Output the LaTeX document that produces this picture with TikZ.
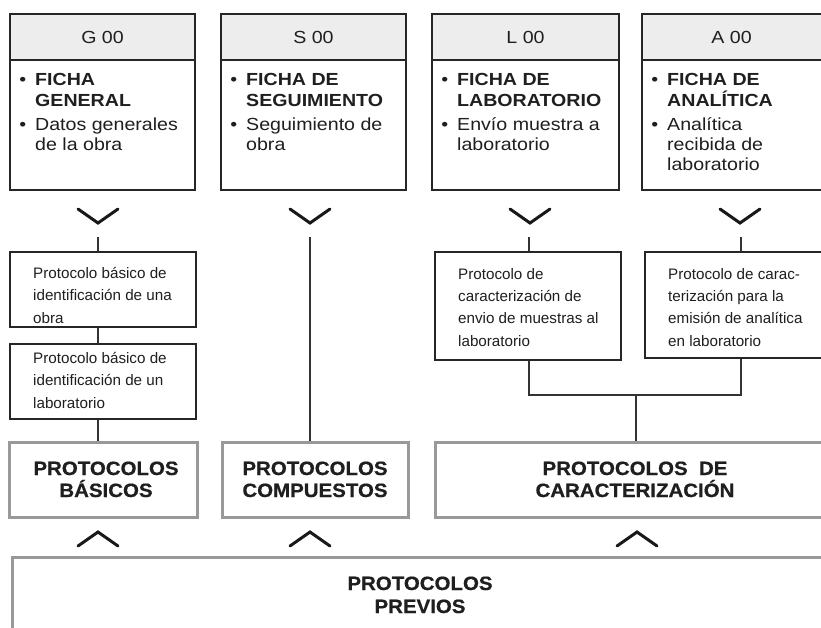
\documentclass[tikz,border=0pt]{standalone}
\usepackage{fontspec}
\setmainfont[FakeStretch=1.12]{Liberation Sans}
\newfontfamily\midfam{Liberation Sans}
\newfontfamily\botfam[FakeStretch=1.06,FakeBold=0.6]{Liberation Sans Bold}
\begin{document}
\begin{tikzpicture}[x=1pt,y=-1pt,
  txt/.style={inner sep=0pt, text=black!88},
  topfont/.style={font=\fontsize{17.5}{21}\selectfont},
  midfont/.style={font=\midfam\fontsize{15.2}{18}\selectfont},
  botfont/.style={font=\botfam\fontsize{19.3}{22}\selectfont},
  headbox/.style={draw=black!85, line width=1.5pt, fill=black!7, inner sep=0pt},
  bodybox/.style={draw=black!85, line width=1.5pt, fill=white, inner sep=0pt},
  midbox/.style={draw=black!85, line width=1.4pt, fill=white, inner sep=0pt},
  grybox/.style={draw=black!40, line width=3pt, fill=white, inner sep=0pt},
  link/.style={draw=black!80, line width=1.3pt},
  chev/.style={draw=black!90, line width=3pt, line cap=round, line join=miter}
]
\useasboundingbox (0,0) rectangle (821,627);
\fill[white] (0,0) rectangle (821,627);

% bullet helper
\newcommand\bul{\makebox[0pt][r]{\textbullet\hspace{9pt}}}

% ---------- top boxes ----------
\foreach \n/\xa/\xb/\lab in {G/10/195/G 00, S/221/406/S 00, L/432/619/L 00, A/642/835/A 00}{
  \path[headbox] (\xa,14) rectangle (\xb,60);
  \path[bodybox] (\xa,60) rectangle (\xb,190);
  \node[txt, topfont] (h\n) at ({(\xa+min(\xb,821))/2},37) {\lab};
}
% body texts
\begin{scope}[every node/.style={txt, topfont, anchor=base west}]
  \node (g1) at (35,85)  {\bul\textbf{FICHA}};
  \node (g2) at (35,106) {\textbf{GENERAL}};
  \node (g3) at (35,130) {\bul Datos generales};
  \node (g4) at (35,150) {de la obra};
  \node (s1) at (246,85)  {\bul\textbf{FICHA DE}};
  \node (s2) at (246,106) {\textbf{SEGUIMIENTO}};
  \node (s3) at (246,130) {\bul Seguimiento de};
  \node (s4) at (246,150) {obra};
  \node (l1) at (457,85)  {\bul\textbf{FICHA DE}};
  \node (l2) at (457,106) {\textbf{LABORATORIO}};
  \node (l3) at (457,130) {\bul Envío muestra a};
  \node (l4) at (457,150) {laboratorio};
  \node (a1) at (667,85)  {\bul\textbf{FICHA DE}};
  \node (a2) at (667,106) {\textbf{ANALÍTICA}};
  \node (a3) at (667,130) {\bul Analítica};
  \node (a4) at (667,150) {recibida de};
  \node (a5) at (667,170) {laboratorio};
\end{scope}

% ---------- down chevrons ----------
\foreach \cx in {98,310,530,740}{
  \draw[chev] (\cx-20,209) -- (\cx,223) -- (\cx+20,209);
}

% ---------- middle boxes ----------
\node[midbox, minimum width=186pt, minimum height=75pt] (b1) at (103,289.5) {};
\node[midbox, minimum width=186pt, minimum height=75pt] (b2) at (103,381.5) {};
\node[midbox, minimum width=186pt, minimum height=108pt] (lc) at (528,306) {};
\node[midbox, minimum width=190pt, minimum height=106pt] (ac) at (740,305) {};

\begin{scope}[every node/.style={txt, midfont, anchor=base west}]
  \node (b1a) at (33,278) {Protocolo básico de};
  \node (b1b) at (33,300) {identificación de una};
  \node (b1c) at (33,323) {obra};
  \node (b2a) at (33,363) {Protocolo básico de};
  \node (b2b) at (33,385) {identificación de un};
  \node (b2c) at (33,408) {laboratorio};
  \node (lca) at (458,279) {Protocolo de};
  \node (lcb) at (458,301) {caracterización de};
  \node (lcc) at (458,323) {envio de muestras al};
  \node (lcd) at (458,346) {laboratorio};
  \node (aca) at (668,279) {Protocolo de carac-};
  \node (acb) at (668,301) {terización para la};
  \node (acc) at (668,323) {emisión de analítica};
  \node (acd) at (668,346) {en laboratorio};
\end{scope}

% ---------- bottom boxes ----------
\node[grybox, minimum width=188pt, minimum height=75pt] (pb) at (103,479.5) {};
\node[grybox, minimum width=186pt, minimum height=75pt] (pc) at (315,479.5) {};
\node[grybox, minimum width=400pt, minimum height=75pt] (pk) at (635,479.5) {};
\node[grybox, minimum width=818pt, minimum height=90pt] (pp) at (421,602) {};

\begin{scope}[every node/.style={txt, botfont, anchor=base}]
  \node (pb1) at (106,475) {PROTOCOLOS};
  \node (pb2) at (106,497) {BÁSICOS};
  \node (pc1) at (315,475) {PROTOCOLOS};
  \node (pc2) at (315,497) {COMPUESTOS};
  \node (pk1) at (635,475) {PROTOCOLOS\ \ DE};
  \node (pk2) at (635,497) {CARACTERIZACIÓN};
  \node (pp1) at (420,590) {PROTOCOLOS};
  \node (pp2) at (420,613) {PREVIOS};
\end{scope}

% ---------- up chevrons ----------
\foreach \cx in {98,310,637}{
  \draw[chev] (\cx-20,546) -- (\cx,532) -- (\cx+20,546);
}

% ---------- connectors ----------
\coordinate (cg) at (98,237);
\coordinate (cs) at (310,237);
\coordinate (cl) at (529,237);
\coordinate (ca) at (741,237);
\coordinate (jn) at (636,395);
\draw[link] (cg) -- (cg |- b1.north);
\draw[link] (b1.south -| cg) -- (b2.north -| cg);
\draw[link] (b2.south -| cg) -- (pb.north -| cg);
\draw[link] (cs) -- (cs |- pc.north);
\draw[link] (cl) -- (cl |- lc.north);
\draw[link] (ca) -- (ca |- ac.north);
\draw[link] (lc.south -| cl) |- (jn) -| (ac.south -| ca);
\draw[link] (jn) -- (jn |- pk.north);
\end{tikzpicture}
\end{document}
